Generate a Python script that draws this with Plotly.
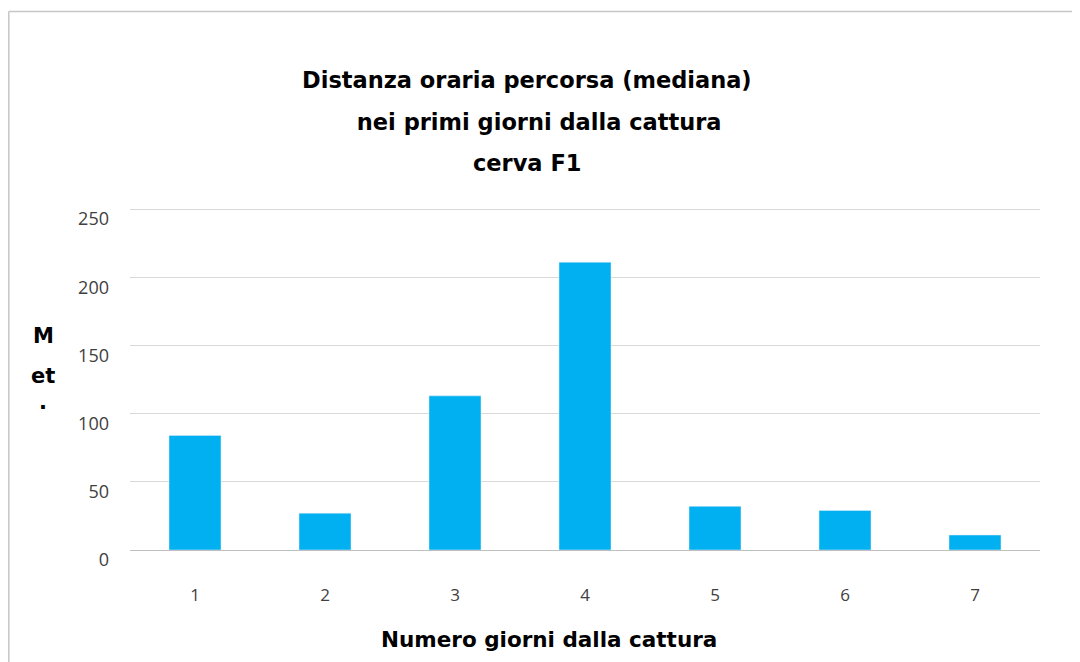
import plotly.graph_objects as go

days = ["1", "2", "3", "4", "5", "6", "7"]
meters = [84, 27, 113, 211, 32, 29, 11]
y_ticks = [0, 50, 100, 150, 200, 250]
title_lines = ["Distanza oraria percorsa (mediana)", " nei primi giorni dalla cattura", "cerva F1"]
x_title = "Numero giorni dalla cattura"
y_title_parts = ["M", "et", "."]

OFF = 8  # page body margin
W, H = 1080, 662
L, R, T, B = 130 - OFF, 40 + OFF, 206 - OFF, 112 + OFF
pw, ph = W - L - R, H - T - B

def px(x):
    return (x - OFF - L) / pw

def py(y):
    return (H - B - (y - OFF)) / ph

bold_font = "Comic Sans MS, DejaVu Sans, sans-serif"

fig = go.Figure()
fig.add_trace(go.Bar(x=days, y=meters, marker_color="#00B0F0", width=0.4))

annotations = []
for i, (line, yy) in enumerate(zip(title_lines, [80, 122, 163])):
    annotations.append(dict(text="<b>" + line + "</b>", x=px(527 + (8 if i == 1 else 0)), y=py(yy),
                            xref="paper", yref="paper", showarrow=False,
                            font=dict(family=bold_font, size=22.5, color="black"),
                            xanchor="center", yanchor="middle"))
annotations.append(dict(text="<b>" + x_title + "</b>", x=px(549), y=py(639), xref="paper", yref="paper",
                        showarrow=False, font=dict(family=bold_font, size=21.5, color="black"),
                        xanchor="center", yanchor="middle"))
for part, yy in zip(y_title_parts, [336, 376, 402]):
    annotations.append(dict(text="<b>" + part + "</b>", x=px(43), y=py(yy), xref="paper", yref="paper",
                            showarrow=False, font=dict(family=bold_font, size=21, color="black"),
                            xanchor="center", yanchor="middle"))

shapes = [
    dict(type="line", xref="paper", yref="paper", x0=px(8.8), x1=px(8.8), y0=py(11.5), y1=py(700),
         line=dict(color="#c6c6c6", width=1.5)),
    dict(type="line", xref="paper", yref="paper", x0=px(8.8), x1=px(1100), y0=py(11.5), y1=py(11.5),
         line=dict(color="#c6c6c6", width=1.5)),
]

fig.update_layout(
    width=W, height=H,
    margin=dict(l=L, r=R, t=T, b=B),
    paper_bgcolor="white", plot_bgcolor="white",
    showlegend=False,
    annotations=annotations,
    shapes=shapes,
    bargap=0.6,
)
fig.update_xaxes(showgrid=False, showline=False, ticks="", zeroline=False,
                 tickfont=dict(family="Open Sans, sans-serif", size=17, color="#404040"),
                 ticklabelstandoff=33)
fig.update_yaxes(range=[0, 252.2], tickvals=y_ticks, showgrid=True, gridcolor="#d9d9d9", gridwidth=1,
                 zeroline=True, zerolinecolor="#bfbfbf", zerolinewidth=1, showline=False, ticks="",
                 tickfont=dict(family="Open Sans, sans-serif", size=18, color="#404040"),
                 ticklabelstandoff=20, ticklabelshift=10)

fig.write_html("out.html")
